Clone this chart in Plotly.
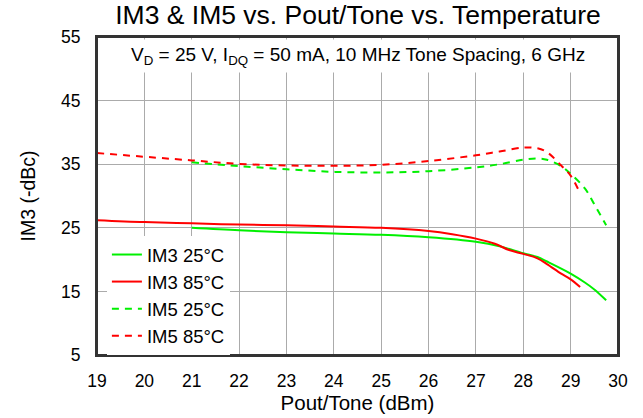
import plotly.graph_objects as go

x_im3_25 = [21, 22, 23, 24, 25, 26, 27, 27.5, 28, 28.3, 28.5, 29, 29.3, 29.5, 29.75]
y_im3_25 = [25.0, 24.6, 24.3, 24.1, 23.9, 23.5, 22.8, 22.1, 21.0, 20.4, 19.7, 17.8, 16.4, 15.3, 13.6]

x_im3_85 = [19, 20, 21, 22, 23, 24, 25, 26, 26.5, 27, 27.4, 27.7, 28, 28.3, 28.5, 28.8, 29.0, 29.2]
y_im3_85 = [26.2, 25.9, 25.7, 25.5, 25.4, 25.2, 25.0, 24.5, 24.0, 23.3, 22.5, 21.5, 20.9, 20.2, 19.3, 17.8, 16.9, 15.7]

x_im5_25 = [21, 22, 23, 24, 25, 26, 27, 27.5, 28, 28.3, 28.5, 28.8, 29, 29.3, 29.5, 29.75]
y_im5_25 = [35.3, 34.7, 34.2, 33.8, 33.7, 33.9, 34.5, 35.0, 35.7, 35.9, 35.7, 34.7, 33.5, 31.2, 28.7, 25.4]

x_im5_85 = [19, 21, 22, 23, 24, 25, 26, 27, 27.5, 28, 28.3, 28.5, 28.8, 29, 29.17]
y_im5_85 = [36.75, 35.6, 35.05, 34.8, 34.75, 34.9, 35.5, 36.4, 37.0, 37.6, 37.5, 36.9, 34.8, 33.2, 30.9]

series_names = ["IM3 25°C", "IM3 85°C", "IM5 25°C", "IM5 85°C"]

GREEN = "#00f000"
RED = "#ff0000"
FONT = "Liberation Sans, Arial, sans-serif"
DASH = "7px,6px"

fig = go.Figure()
fig.add_trace(go.Scatter(x=x_im3_25, y=y_im3_25, mode="lines", name=series_names[0], legendgroup="a",
                         line=dict(color=GREEN, width=2, shape="spline")))
fig.add_trace(go.Scatter(x=x_im3_85, y=y_im3_85, mode="lines", name=series_names[1], legendgroup="b",
                         line=dict(color=RED, width=2, shape="spline")))
fig.add_trace(go.Scatter(x=x_im5_25, y=y_im5_25, mode="lines", name=series_names[2], legendgroup="c",
                         line=dict(color=GREEN, width=2, dash=DASH, shape="spline")))
fig.add_trace(go.Scatter(x=x_im5_85, y=y_im5_85, mode="lines", name=series_names[3], legendgroup="d",
                         line=dict(color=RED, width=2, dash=DASH, shape="spline")))

fig.update_layout(
    width=643, height=418,
    margin=dict(l=97, r=23, t=37, b=61),
    paper_bgcolor="white", plot_bgcolor="white",
    font=dict(family=FONT, size=17, color="black"),
    title=dict(text="IM3 & IM5 vs. Pout/Tone vs. Temperature", x=(114 + 602) / 2 / 643, xanchor="center",
               y=0.964, yanchor="middle", font=dict(size=26.5)),
    legend=dict(x=0.019, y=0.0, xanchor="left", yanchor="bottom", bgcolor="white",
                font=dict(size=18.5), tracegroupgap=0, itemwidth=30),
    showlegend=True,
)
fig.update_xaxes(range=[19, 30], tick0=19, dtick=1, showgrid=True, gridcolor="#ababab", gridwidth=1,
                 showline=True, mirror="all", linecolor="#333333", linewidth=2,
                 ticks="outside", ticklen=9, tickcolor="rgba(0,0,0,0)", zeroline=False,
                 tickfont=dict(size=17.5),
                 title=dict(text="Pout/Tone (dBm)", standoff=1, font=dict(size=20.5)))
fig.update_yaxes(range=[5, 55], tick0=5, dtick=10, showgrid=True, gridcolor="#ababab", gridwidth=1,
                 showline=True, mirror="all", linecolor="#333333", linewidth=2,
                 ticks="outside", ticklen=11, tickcolor="rgba(0,0,0,0)", zeroline=False,
                 tickfont=dict(size=17.5),
                 title=dict(text="IM3 (-dBc)", standoff=20, font=dict(size=19.5)))

fig.add_shape(type="rect", xref="paper", yref="paper", x0=0, x1=1, y0=0, y1=1,
              line=dict(color="#333333", width=2), fillcolor="rgba(0,0,0,0)", layer="above")

fig.add_annotation(x=0.5, y=1.0, xref="paper", yref="paper", xanchor="center", yanchor="top",
                   text="V<sub>D</sub> = 25 V, I<sub>DQ</sub> = 50 mA, 10 MHz Tone Spacing, 6 GHz",
                   showarrow=False, bgcolor="white", font=dict(size=19), borderpad=4, yshift=-2)

fig.write_html("out.html", post_script="document.body.style.margin='0px';",
               config={"displayModeBar": False})
